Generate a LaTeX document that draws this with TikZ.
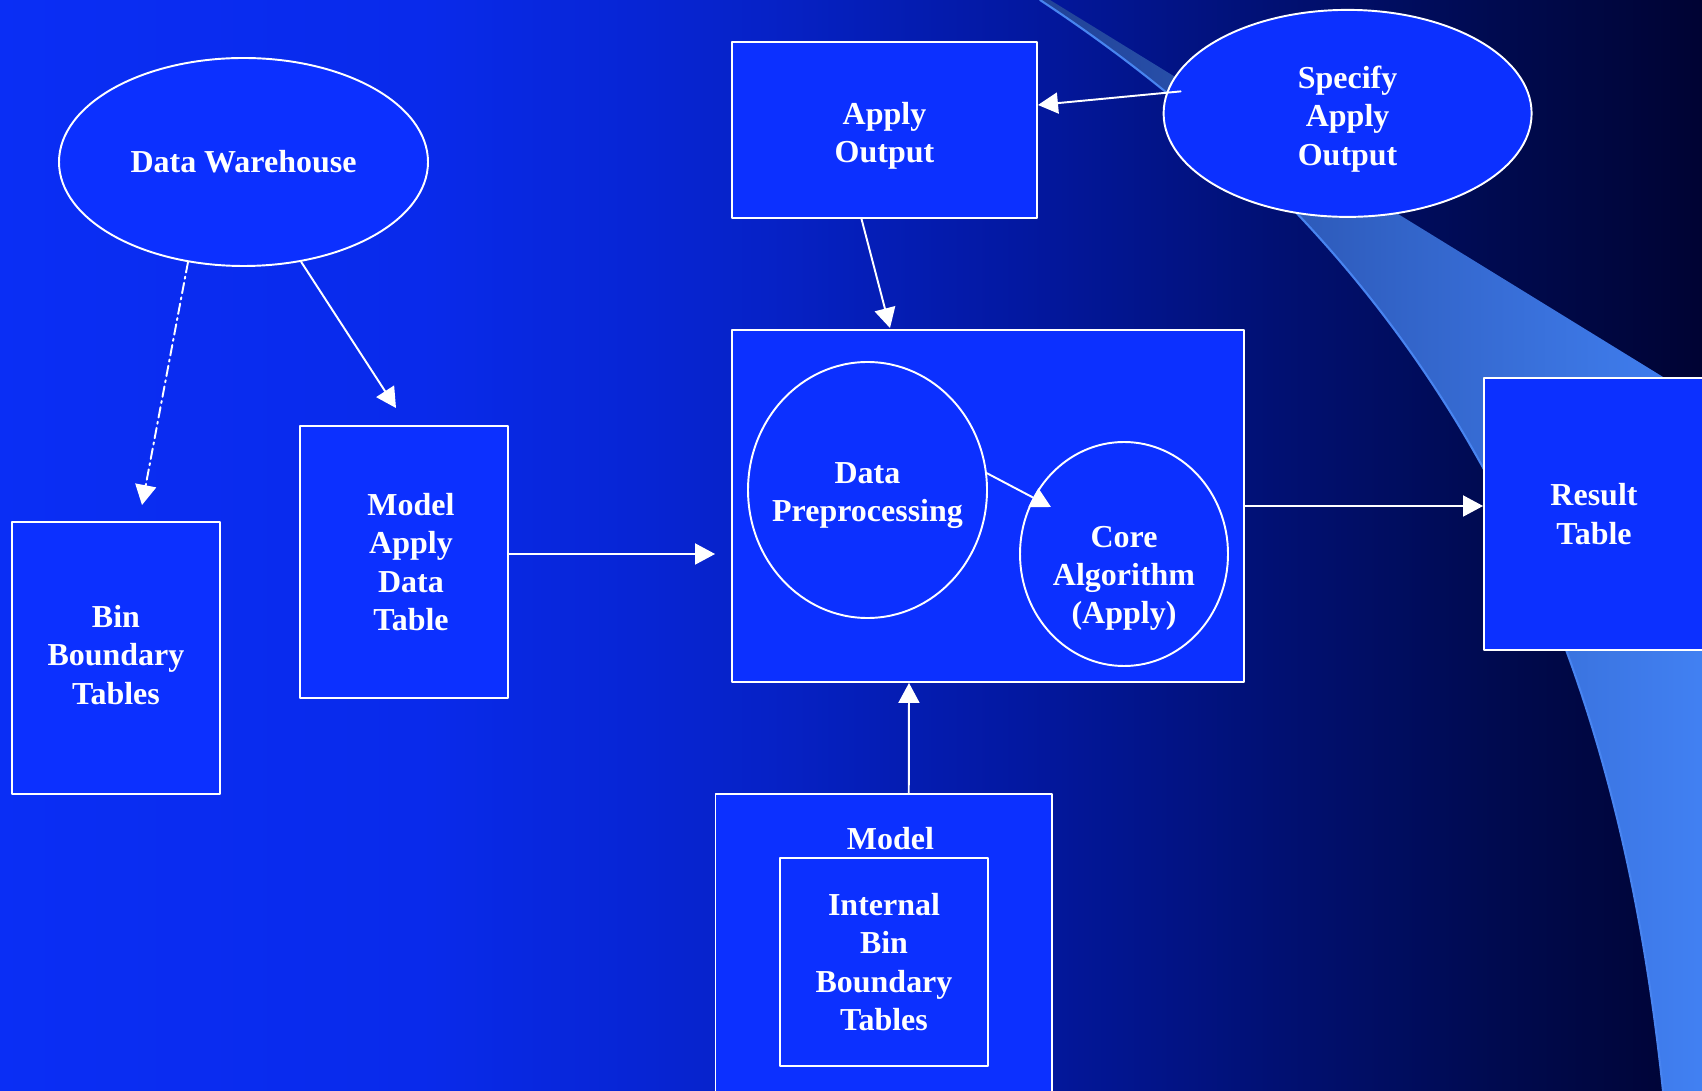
\documentclass[tikz,border=0pt]{standalone}
\usepackage{fontspec}
\setmainfont{Liberation Serif}
\usetikzlibrary{arrows.meta,calc,shapes.geometric}
\definecolor{azulcaja}{RGB}{12,48,255}
\definecolor{celeste}{RGB}{66,130,245}
\definecolor{celesteosc}{RGB}{33,66,150}
\definecolor{borde}{RGB}{72,132,240}
\pgfdeclarehorizontalshading{fondo}{100bp}{rgb(0bp)=(0.04,0.18,0.96); rgb(25bp)=(0.04,0.18,0.96); rgb(37.5bp)=(0.035,0.165,0.92); rgb(47.5bp)=(0.024,0.133,0.78); rgb(55bp)=(0.012,0.094,0.63); rgb(62.5bp)=(0.004,0.063,0.45); rgb(69bp)=(0,0.04,0.31); rgb(75bp)=(0,0.012,0.2); rgb(100bp)=(0,0.012,0.2)}

\begin{document}
\begin{tikzpicture}[x=0.1mm, y=-0.1mm, line cap=round, line join=round,
  font=\fontsize{9.1}{10.9}\selectfont\bfseries,
  caja/.style={draw=white, fill=azulcaja, line width=0.55pt, text=white, align=center, inner sep=0pt},
  ovalo/.style={caja, ellipse},
  texto/.style={text=white, align=center, inner sep=0pt},
  flecha/.style={white, line width=0.55pt, -{Triangle[length=2mm, width=2.1mm]}}]
  \clip (0,0) rectangle (1702,1091);
  \shade[shading=fondo] (0,0) rectangle (1702,1091);

  % Franja celeste
  \shade[left color=celesteosc, right color=celeste] (1040,0) .. controls (1480,290) and (1620,680) .. (1663,1091) -- (1720,1100) -- (1720,412) -- (1050,0) -- cycle;
  \draw[borde, line width=0.6pt] (1040,0) .. controls (1480,290) and (1620,680) .. (1663,1091);

  % Nodos
  \node[ovalo, minimum width=36.9mm, minimum height=20.8mm] (dw) at (243.5,162) {Data Warehouse};
  \node[caja, minimum width=20.8mm, minimum height=27.2mm] (bin) at (116,658) {};
  \node[texto] (bintxt) at (116,655) {Bin\\Boundary\\Tables};
  \node[caja, minimum width=20.8mm, minimum height=27.2mm] (mad) at (404,562) {};
  \node[texto] (madtxt) at (411,562) {Model\\Apply\\Data\\Table};
  \node[caja, minimum width=30.5mm, minimum height=17.6mm] (ao) at (884.5,130) {};
  \node[texto] (aotxt) at (884.5,136) {Apply\\Output};
  \node[ovalo, minimum width=36.8mm, minimum height=20.7mm] (spec) at (1347.6,113.4) {};
  \node[texto] (spectxt) at (1347.6,119) {Specify\\Apply\\Output};
  \node[caja, minimum width=51.2mm, minimum height=35.2mm] (proc) at (988,506) {};
  \node[ovalo, minimum width=23.9mm, minimum height=25.6mm] (dp) at (867.5,490) {};
  \node[texto] (dptxt) at (867.5,495.5) {Data\\Preprocessing};
  \node[ovalo, minimum width=20.8mm, minimum height=22.4mm] (core) at (1124,554) {};
  \node[texto] (coretxt) at (1124,578.5) {Core\\Algorithm\\(Apply)};
  \node[caja, minimum width=22mm, minimum height=27.2mm] (res) at (1594,514) {Result\\Table};
  \node[caja, minimum width=33.65mm, minimum height=33.1mm] (model) at (883.75,959.5) {};
  \node[texto] (modeltxt) at (890.5,839) {Model};
  \node[caja, minimum width=20.8mm, minimum height=20.8mm] (ibt) at (884,962) {Internal\\Bin\\Boundary\\Tables};

  % Flechas
  \draw[flecha, dash pattern=on 3pt off 1.2pt on 0.6pt off 1.2pt] (dw.241) -- ($(bin.north)+(26,-16)$);
  \draw[flecha] (dw.300) -- ($(mad.north)+(-8,-17)$);
  \draw[flecha] ($(ao.south)+(-23,0)$) -- ($(proc.north)+(-98,-1)$);
  \draw[flecha] ($(spec.west)+(18,-22)$) -- ($(ao.east)+(0,-25)$);
  \draw[flecha] ($(mad.east)+(0,-8)$) -- ($(proc.west)+(-16,48)$);
  \draw[flecha] (dp.8) -- ($(core.center)+(-73,-47)$);
  \draw[flecha] (proc.east) -- (proc.east -| res.west);
  \draw[flecha] ($(model.north)+(25,0)$) -- ($(proc.south)+(-79,0)$);
\end{tikzpicture}
\end{document}
